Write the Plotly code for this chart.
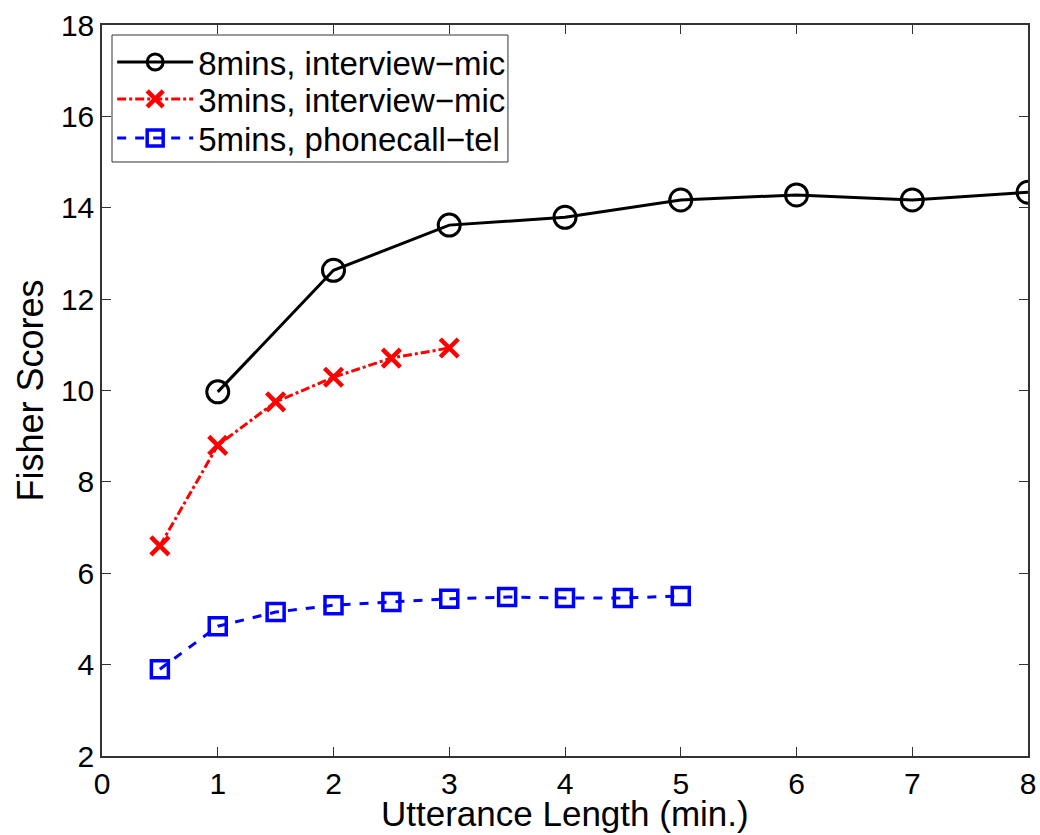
import plotly.graph_objects as go

# Fisher scores vs. utterance length for three enrollment conditions
x_8min_mic = [1, 2, 3, 4, 5, 6, 7, 8]
y_8min_mic = [9.97, 12.63, 13.62, 13.79, 14.17, 14.28, 14.17, 14.34]

x_3min_mic = [0.5, 1, 1.5, 2, 2.5, 3]
y_3min_mic = [6.60, 8.80, 9.75, 10.29, 10.71, 10.93]

x_5min_tel = [0.5, 1, 1.5, 2, 2.5, 3, 3.5, 4, 4.5, 5]
y_5min_tel = [3.90, 4.84, 5.15, 5.30, 5.37, 5.44, 5.48, 5.46, 5.46, 5.50]

x_ticks = [0, 1, 2, 3, 4, 5, 6, 7, 8]
y_ticks = [2, 4, 6, 8, 10, 12, 14, 16, 18]

FONT = "Liberation Sans"
WIDTH, HEIGHT = 1040, 835
MARGIN = dict(l=102, r=12, t=25, b=79)

fig = go.Figure()
fig.add_trace(go.Scatter(
    x=x_8min_mic, y=y_8min_mic, mode="lines+markers",
    name="8mins, interview\u2212mic", legend="legend",
    line=dict(color="black", width=3),
    marker=dict(symbol="circle-open", size=22, color="black", line=dict(width=3)),
))
fig.add_trace(go.Scatter(
    x=x_3min_mic, y=y_3min_mic, mode="lines+markers",
    name="3mins, interview\u2212mic", legend="legend2",
    line=dict(color="red", width=3, dash="dashdot"),
    marker=dict(symbol="x-thin", size=18, color="red", line=dict(width=4.5, color="red")),
))
fig.add_trace(go.Scatter(
    x=x_5min_tel, y=y_5min_tel, mode="lines+markers",
    name="5mins, phonecall\u2212tel", legend="legend3",
    line=dict(color="blue", width=3, dash="dash"),
    marker=dict(symbol="square-open", size=17, color="blue", line=dict(width=3.5)),
))

axis_common = dict(
    showgrid=False, zeroline=False, showline=True, linecolor="#333333", linewidth=1.5,
    mirror="ticks", ticks="inside", ticklen=9, tickwidth=1, tickcolor="#333333",
    tickfont=dict(family=FONT, size=30, color="black"),
    automargin=False,
)

# one legend per row so the rows sit tightly inside a single framed box
def legend_row(y):
    return dict(
        x=0.011, y=y, xanchor="left", yanchor="middle",
        bgcolor="rgba(0,0,0,0)", borderwidth=0,
        font=dict(family=FONT, size=33, color="black"),
        itemwidth=76,
    )

plot_h = HEIGHT - MARGIN["t"] - MARGIN["b"]

fig.update_layout(
    width=WIDTH, height=HEIGHT,
    margin=MARGIN,
    paper_bgcolor="white", plot_bgcolor="white",
    font=dict(family=FONT, color="black"),
    xaxis=dict(range=[0, 8], tickvals=x_ticks, **axis_common),
    yaxis=dict(range=[2, 18], tickvals=y_ticks,
               title=dict(text="Fisher Scores", font=dict(family=FONT, size=36), standoff=6),
               **axis_common),
    legend=legend_row(0.9494),
    legend2=legend_row(0.8988),
    legend3=legend_row(0.8454),
    shapes=[dict(
        type="rect", xref="paper", yref="paper",
        x0=0.0108, x1=0.4384, y0=0.8126, y1=0.9863,
        line=dict(color="#333333", width=1), fillcolor="white", layer="below",
    )],
    annotations=[dict(
        text="Utterance Length (min.)", xref="paper", yref="paper",
        x=0.5, y=-MARGIN["b"] / plot_h, xanchor="center", yanchor="bottom",
        yshift=0, showarrow=False, font=dict(family=FONT, size=35, color="black"),
    )],
    showlegend=True,
)

fig.write_html("out.html")
